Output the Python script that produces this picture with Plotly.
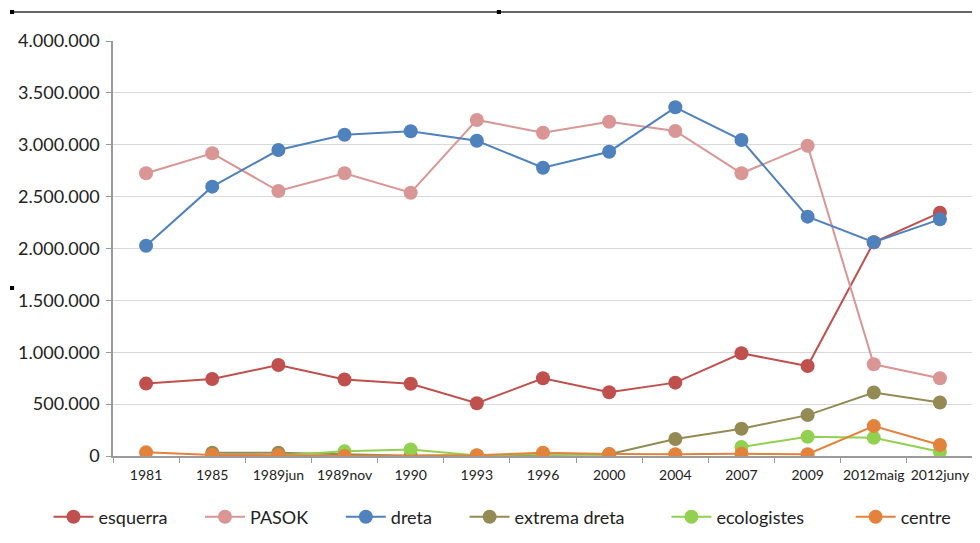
import plotly.graph_objects as go

categories = ["1981", "1985", "1989jun", "1989nov", "1990", "1993", "1996",
              "2000", "2004", "2007", "2009", "2012maig", "2012juny"]

esquerra = [698000, 742000, 877000, 737000, 697000, 508000, 749000,
            614000, 707000, 990000, 867000, 2060000, 2345000]
pasok = [2725000, 2918000, 2554000, 2725000, 2538000, 3239000, 3116000,
         3222000, 3133000, 2725000, 2991000, 884000, 749000]
dreta = [2027000, 2596000, 2949000, 3097000, 3130000, 3039000, 2779000,
         2933000, 3361000, 3046000, 2307000, 2060000, 2281000]
extrema_dreta = [None, 32000, 32000, None, 2000, None, None,
                 16000, 164000, 263000, 394000, 612000, 516000]
ecologistes = [None, None, 5000, 45000, 62000, 5000, 20000,
               10000, None, 87000, 186000, 176000, 41000]
centre = [35000, 10000, 8000, 1000, None, 8000, 32000,
          20000, 17000, 22000, 17000, 288000, 106000]

series = [
    ("esquerra", esquerra, "#C0504D", False, 6),
    ("PASOK", pasok, "#D99694", False, 6),
    ("dreta", dreta, "#4F81BD", False, 6),
    ("extrema dreta", extrema_dreta, "#948A54", True, 8),
    ("ecologistes", ecologistes, "#92D050", False, 9),
    ("centre", centre, "#E3823A", True, 0),
]

FONT = "Lato, Liberation Sans, Arial, sans-serif"

fig = go.Figure()
for name, vals, color, gaps, pad in series:
    fig.add_trace(go.Scatter(
        x=categories, y=vals, name=name + "\u00a0" * pad,
        mode="lines+markers",
        line=dict(color=color, width=2),
        marker=dict(color=color, size=14),
        connectgaps=gaps,
    ))

fig.update_layout(
    width=972, height=535,
    margin=dict(l=105, r=7, t=33, b=87),
    paper_bgcolor="white", plot_bgcolor="white",
    separators=",.",
    font=dict(family=FONT, color="#222222"),
    showlegend=True,
    legend=dict(orientation="h", x=-0.075, xanchor="left", y=-0.147, yanchor="middle",
                font=dict(size=18, family=FONT, color="#222222"),
                itemwidth=40, tracegroupgap=0),
    xaxis=dict(type="category", showgrid=False, showline=True, linecolor="#9a9a9a",
               linewidth=1.5, ticks="outside", ticklen=5, tickcolor="#9a9a9a",
               tickson="boundaries", tickangle=0, automargin=False,
               ticklabelstandoff=5,
               tickfont=dict(size=14, family=FONT, color="#222222"),
               range=[-0.5, 12.5], zeroline=False),
    yaxis=dict(range=[0, 4000000], tickvals=[0, 500000, 1000000, 1500000, 2000000,
                                             2500000, 3000000, 3500000, 4000000],
               tickformat=",d", showgrid=True, gridcolor="#d9d9d9", gridwidth=1,
               showline=True, linecolor="#9a9a9a", linewidth=1.5, ticks="outside",
               ticklen=5, tickcolor="#9a9a9a", zeroline=False, automargin=False,
               ticklabelstandoff=3,
               tickfont=dict(size=18, family=FONT, color="#222222")),
    shapes=[
        dict(type="line", xref="paper", yref="paper", x0=-0.1174, x1=1.01, y0=1.0699, y1=1.0699,
             line=dict(color="#333333", width=1.5)),
        dict(type="rect", xref="paper", yref="paper", x0=-0.1198, x1=-0.115, y0=1.065, y1=1.0747,
             fillcolor="black", line=dict(width=0)),
        dict(type="rect", xref="paper", yref="paper", x0=0.4463, x1=0.4511, y0=1.065, y1=1.0747,
             fillcolor="black", line=dict(width=0)),
        dict(type="rect", xref="paper", yref="paper", x0=-0.1198, x1=-0.115, y0=0.4, y1=0.4096,
             fillcolor="black", line=dict(width=0)),
    ],
)

fig.write_html("out.html")
